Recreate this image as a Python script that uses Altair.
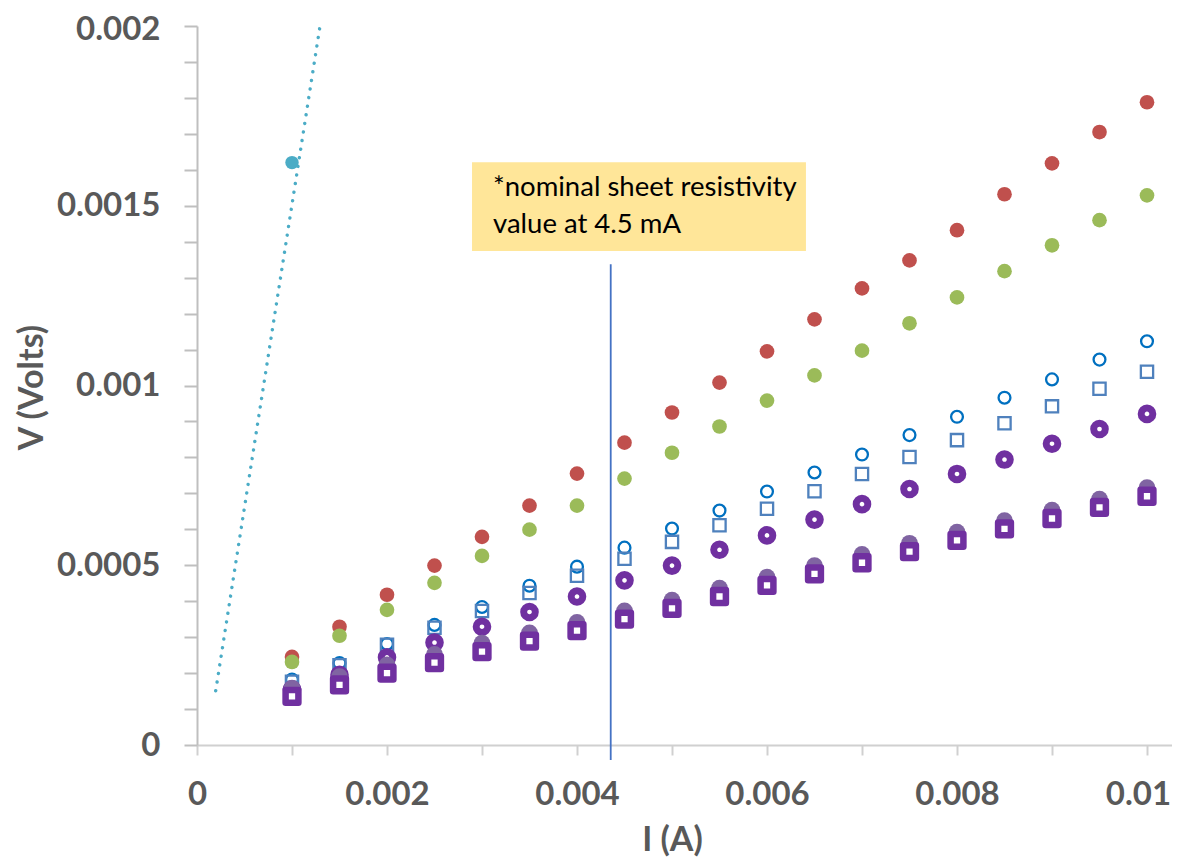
import json
import altair as alt
import pandas as pd

# ---------------- data ----------------
I_VALUES = [0.001, 0.0015, 0.002, 0.0025, 0.003, 0.0035, 0.004, 0.0045, 0.005,
            0.0055, 0.006, 0.0065, 0.007, 0.0075, 0.008, 0.0085, 0.009, 0.0095, 0.01]

V_RED = [0.000245, 0.000329, 0.000418, 0.000499, 0.000579, 0.000666, 0.000755, 0.000841,
         0.000925, 0.001008, 0.001095, 0.001184, 0.001270, 0.001348, 0.001432, 0.001532,
         0.001618, 0.001705, 0.001788]
V_GREEN = [0.000231, 0.000304, 0.000376, 0.000451, 0.000526, 0.000599, 0.000666, 0.000741,
           0.000813, 0.000886, 0.000958, 0.001028, 0.001097, 0.001173, 0.001245, 0.001318,
           0.001390, 0.001460, 0.001529]
V_BLUE_CIRCLE = [0.000182, 0.000228, 0.000281, 0.000334, 0.000384, 0.000443, 0.000496,
                 0.000549, 0.000602, 0.000652, 0.000705, 0.000758, 0.000808, 0.000862,
                 0.000913, 0.000966, 0.001017, 0.001072, 0.001123]
V_BLUE_SQUARE = [0.000176, 0.000222, 0.000279, 0.000326, 0.000373, 0.000423, 0.000471,
                 0.000518, 0.000565, 0.000611, 0.000657, 0.000706, 0.000754, 0.000801,
                 0.000848, 0.000895, 0.000942, 0.000991, 0.001038]
V_PURPLE_RING = [0.000155, 0.000195, 0.000244, 0.000285, 0.000329, 0.000370, 0.000413,
                 0.000458, 0.000499, 0.000543, 0.000583, 0.000627, 0.000670, 0.000712,
                 0.000754, 0.000794, 0.000838, 0.000879, 0.000921]
V_GREY_DOT = [0.000158, 0.000190, 0.000223, 0.000252, 0.000283, 0.000312, 0.000341,
              0.000373, 0.000403, 0.000436, 0.000467, 0.000499, 0.000530, 0.000561,
              0.000592, 0.000624, 0.000653, 0.000684, 0.000716]
V_PURPLE_SQUARE = [0.000135, 0.000167, 0.000200, 0.000229, 0.000260, 0.000289, 0.000318,
                   0.000350, 0.000380, 0.000413, 0.000444, 0.000476, 0.000507, 0.000538,
                   0.000569, 0.000601, 0.000630, 0.000661, 0.000692]

CYAN_I = [0.001]
CYAN_V = [0.00162]
TREND_I = [0.000197, 0.001295]
TREND_V = [0.000151, 0.002]

EDGE_RED_I = [0.01034]
EDGE_RED_V = [0.00117]

MARKER_I = [0.004355]
MARKER_V = [-0.0000418]
MARKER_V2 = [0.001337]

NOTE_LINES = ["*nominal sheet resistivity", "value at 4.5 mA"]
NOTE_I = [0.003116, 0.003116]
NOTE_V = [0.001526, 0.001423]
BOX_I = [0.002895]
BOX_I2 = [0.00641]
BOX_V = [0.001374]
BOX_V2 = [0.001621]

X_TICKS = [0, 0.001, 0.002, 0.003, 0.004, 0.005, 0.006, 0.007, 0.008, 0.009, 0.01]
X_LABELED = [0, 0.002, 0.004, 0.006, 0.008, 0.01]
Y_TICKS = [0, 0.0001, 0.0002, 0.0003, 0.0004, 0.0005, 0.0006, 0.0007, 0.0008, 0.0009,
           0.001, 0.0011, 0.0012, 0.0013, 0.0014, 0.0015, 0.0016, 0.0017, 0.0018,
           0.0019, 0.002]
Y_LABELED = [0, 0.0005, 0.001, 0.0015, 0.002]

X_MAX = 0.0102632
Y_MAX = 0.002

# ---------------- chart ----------------
FONT = "Lato"
GREY_TXT = "#595959"


def label_expr(vals):
    return f"indexof({json.dumps(vals)}, datum.value) >= 0 ? format(datum.value, '~g') : ''"


x_enc = alt.X(
    "I:Q",
    scale=alt.Scale(domain=[0, X_MAX], nice=False, zero=False),
    axis=alt.Axis(
        values=X_TICKS, labelExpr=label_expr(X_LABELED), title="I (A)", grid=False,
        domainColor="#D0D0D0", domainWidth=2, tickColor="#D0D0D0", tickWidth=2, tickSize=10,
        labelFont=FONT, labelFontSize=33, labelFontWeight="bold", labelColor=GREY_TXT,
        labelPadding=23, labelFlush=False, labelOverlap=False,
        labelOffset={"condition": {"test": f"datum.value == {X_LABELED[-1]}", "value": -9},
                     "value": 0},
        titleFont=FONT, titleFontSize=34, titleFontWeight="bold", titleColor=GREY_TXT,
        titleX=475, titleY=95, titleAlign="center", titleBaseline="middle",
    ),
)
y_enc = alt.Y(
    "V:Q",
    scale=alt.Scale(domain=[0, Y_MAX], nice=False, zero=False),
    axis=alt.Axis(
        values=Y_TICKS, labelExpr=label_expr(Y_LABELED), title="V (Volts)", grid=False,
        domainColor="#BFBFBF", domainWidth=2, tickColor="#BFBFBF", tickWidth=2, tickSize=13,
        labelFont=FONT, labelFontSize=33, labelFontWeight="bold", labelColor=GREY_TXT,
        labelPadding=24, labelOverlap=False, labelFlush=False,
        labelOffset={"condition": {"test": f"datum.value == {Y_LABELED[-1]}", "value": 3},
                     "value": 0},
        titleFont=FONT, titleFontSize=34, titleFontWeight="bold", titleColor=GREY_TXT,
        titleX=-165, titleY=361, titleAngle=270, titleAlign="center", titleBaseline="middle",
    ),
)


def df(xs, ys):
    return pd.DataFrame({"I": xs, "V": ys})


box = alt.Chart(pd.DataFrame({"I": BOX_I, "I2": BOX_I2, "V": BOX_V, "V2": BOX_V2})).mark_rect(
    color="#FFE699"
).encode(x=x_enc, x2="I2:Q", y=y_enc, y2="V2:Q")

note = alt.Chart(pd.DataFrame({"I": NOTE_I, "V": NOTE_V, "t": NOTE_LINES})).mark_text(
    align="left", baseline="alphabetic", font=FONT, fontSize=27.5, color="#000000"
).encode(x=x_enc, y=y_enc, text="t:N")

marker = alt.Chart(pd.DataFrame({"I": MARKER_I, "V": MARKER_V, "V2": MARKER_V2})).mark_rule(
    color="#4472C4", strokeWidth=1.8
).encode(x=x_enc, y=y_enc, y2="V2:Q")

trend = alt.Chart(df(TREND_I, TREND_V)).mark_line(
    color="#4BACC6", strokeWidth=3.4, strokeDash=[0.1, 8.6], strokeCap="round"
).encode(x=x_enc, y=y_enc)


def filled(data, color, size):
    return alt.Chart(data).mark_point(
        shape="circle", filled=True, size=size, color=color, opacity=1
    ).encode(x=x_enc, y=y_enc)


red = filled(df(I_VALUES, V_RED), "#C0504D", 215)
green = filled(df(I_VALUES, V_GREEN), "#9BBB59", 215)
edge_red = alt.Chart(df(EDGE_RED_I, EDGE_RED_V)).mark_point(
    shape="circle", filled=True, size=200, color="#FF0000", opacity=1, clip=True
).encode(x=x_enc, y=y_enc)

blue_circle = alt.Chart(df(I_VALUES, V_BLUE_CIRCLE)).mark_point(
    shape="circle", filled=False, size=140, strokeWidth=2.3, color="#0070C0", opacity=1
).encode(x=x_enc, y=y_enc)
blue_square = alt.Chart(df(I_VALUES, V_BLUE_SQUARE)).mark_point(
    shape="square", filled=False, size=150, strokeWidth=2.3, color="#4F81BD", opacity=1
).encode(x=x_enc, y=y_enc)
purple_ring = alt.Chart(df(I_VALUES, V_PURPLE_RING)).mark_point(
    shape="circle", filled=False, size=135, strokeWidth=7, color="#7030A0", opacity=1
).encode(x=x_enc, y=y_enc)
grey_dot = filled(df(I_VALUES, V_GREY_DOT), "#8064A2", 283)
purple_square = alt.Chart(df(I_VALUES, V_PURPLE_SQUARE)).mark_point(
    shape="square", filled=True, size=164, fill="#FFFFFF", stroke="#7030A0",
    strokeWidth=6.5, strokeJoin="round", opacity=1, fillOpacity=1
).encode(x=x_enc, y=y_enc)
cyan = filled(df(CYAN_I, CYAN_V), "#4BACC6", 180)

chart = alt.layer(
    box, note, marker, trend,
    red, green, blue_circle, blue_square, purple_ring, grey_dot, purple_square,
    cyan, edge_red,
).properties(
    width=975, height=719,
    autosize=alt.AutoSizeParams(type="none"),
    padding={"left": 189, "top": 18, "right": 0, "bottom": 112},
    background="#FFFFFF",
).configure_view(stroke=None)

chart.save("out.html", embed_options={"renderer": "svg", "actions": False})
